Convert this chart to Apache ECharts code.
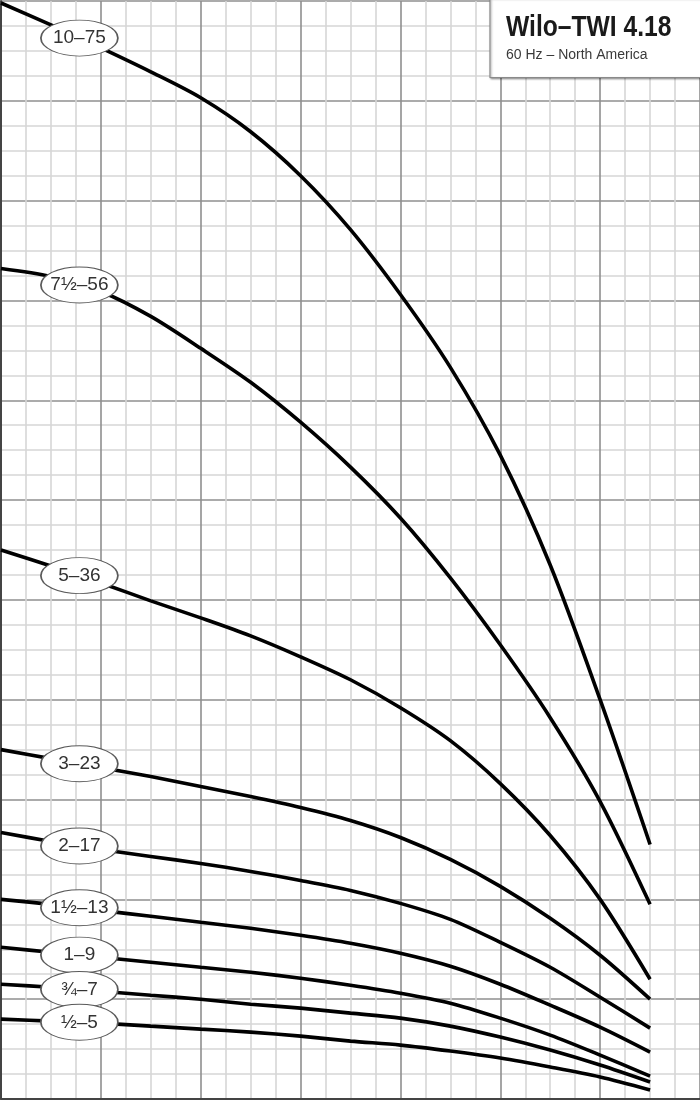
<!DOCTYPE html>
<html>
<head>
<meta charset="utf-8">
<script src="https://cdn.jsdelivr.net/npm/echarts@6/dist/echarts.min.js"></script>
<style>
  html, body { margin: 0; padding: 0; background: #fff; }
  #chart { width: 700px; height: 1100px; }
</style>
</head>
<body>
<div id="chart"></div>
<script>
// Flow (GPM) sample positions
const flow = [0, 2, 4, 6, 8, 10, 12, 14, 16, 18, 20, 22, 24, 26];

// Head (ft) per pump model
const head_10_75  = [1098, 1076, 1053, 1029, 1003, 969, 925, 871, 806, 733, 645, 535, 400, 255];
const head_7h_56  = [832, 824, 809, 784, 752, 718, 678, 633, 582, 522, 455, 382, 298, 195];
const head_5_36   = [550, 534, 517, 499, 482, 464, 443, 420, 392, 359, 316, 264, 200, 120];
const head_3_23   = [350, 341, 332, 323, 313, 303, 292, 279, 262, 240, 213, 181, 144, 100];
const head_2_17   = [267, 258, 250, 243, 236, 228, 219, 209, 196, 180, 157, 132, 102, 71];
const head_1h_13  = [200, 195, 189, 183, 177, 171, 164, 156, 146, 133, 115, 94, 72, 47];
const head_1_9    = [152, 147, 142, 137, 132, 127, 121, 114, 106, 96, 81, 64, 44, 23];
const head_3q_7   = [115, 112, 108, 104, 100, 95, 91, 86, 81, 73, 62, 49, 34, 17];
const head_h_5    = [80, 78, 76, 73, 70, 67, 63, 58, 54, 48, 41, 32, 22, 9];

const modelNames = ['10–75', '7½–56', '5–36', '3–23', '2–17', '1½–13', '1–9', '¾–7', '½–5'];
const modelHeads = [head_10_75, head_7h_56, head_5_36, head_3_23, head_2_17, head_1h_13, head_1_9, head_3q_7, head_h_5];

const labelFlow = 3.14;
const titleText = 'Wilo–TWI 4.18';
const subtitleText = '60 Hz – North America';

function interp(xs, ys, x) {
  for (let i = 0; i < xs.length - 1; i++) {
    if (x >= xs[i] && x <= xs[i + 1]) {
      const t = (x - xs[i]) / (xs[i + 1] - xs[i]);
      return ys[i] + t * (ys[i + 1] - ys[i]);
    }
  }
  return ys[ys.length - 1];
}

const ellipsePath = 'path://M0,50 A50,50 0 1,1 100,50 A50,50 0 1,1 0,50 Z';

const series = modelNames.map((name, i) => ({
  name: name,
  type: 'line',
  smooth: 0.3,
  symbol: 'none',
  data: flow.map((f, j) => [f, modelHeads[i][j]]),
  lineStyle: { color: '#000', width: 3.6 },
  z: 3,
  markPoint: {
    symbol: ellipsePath,
    symbolSize: [77, 36],
    symbolKeepAspect: false,
    silent: true,
    itemStyle: { color: '#fff', borderColor: '#5a5a5a', borderWidth: 1.2 },
    label: {
      show: true,
      position: 'inside',
      formatter: name,
      color: '#333',
      fontSize: 19,
      fontFamily: "'Liberation Sans', Arial, sans-serif"
    },
    data: [{ coord: [labelFlow, interp(flow, modelHeads[i], labelFlow)] }]
  }
}));

const chart = echarts.init(document.getElementById('chart'), null, { renderer: 'canvas' });
chart.setOption({
  animation: false,
  backgroundColor: '#fff',
  grid: { left: 1, right: 0, top: 1, bottom: 1, containLabel: false },
  xAxis: {
    type: 'value', min: 0, max: 28, interval: 4,
    axisLabel: { show: false }, axisTick: { show: false },
    axisLine: { show: true, lineStyle: { color: '#444', width: 2 } },
    splitLine: { show: true, lineStyle: { color: '#8f8f8f', width: 1.6 } },
    minorTick: { show: false, splitNumber: 4 },
    minorSplitLine: { show: true, lineStyle: { color: '#d6d6d6', width: 1.6 } }
  },
  yAxis: {
    type: 'value', min: 0, max: 1100, interval: 100,
    axisLabel: { show: false }, axisTick: { show: false },
    axisLine: { show: true, lineStyle: { color: '#444', width: 2 } },
    splitLine: { show: true, lineStyle: { color: '#8f8f8f', width: 1.6 } },
    minorTick: { show: false, splitNumber: 4 },
    minorSplitLine: { show: true, lineStyle: { color: '#d6d6d6', width: 1.6 } }
  },
  series: series,
  graphic: [
    {
      type: 'rect', z: 100,
      shape: { x: 490, y: -2, width: 215, height: 79.5 },
      style: { fill: '#fff', stroke: '#8a8a8a', lineWidth: 1.2, shadowBlur: 2, shadowOffsetX: 1, shadowOffsetY: 1, shadowColor: 'rgba(0,0,0,0.35)' }
    },
    {
      type: 'text', z: 101, x: 506, y: 13, scaleX: 0.85, scaleY: 1,
      style: { text: titleText, fill: '#1a1a1a', font: "bold 29px 'Liberation Sans', Arial, sans-serif", textVerticalAlign: 'top' }
    },
    {
      type: 'text', z: 101, x: 506, y: 48,
      style: { text: subtitleText, fill: '#3a3a3a', font: "14px 'Liberation Sans', Arial, sans-serif", textVerticalAlign: 'top' }
    }
  ]
});
</script>
</body>
</html>
